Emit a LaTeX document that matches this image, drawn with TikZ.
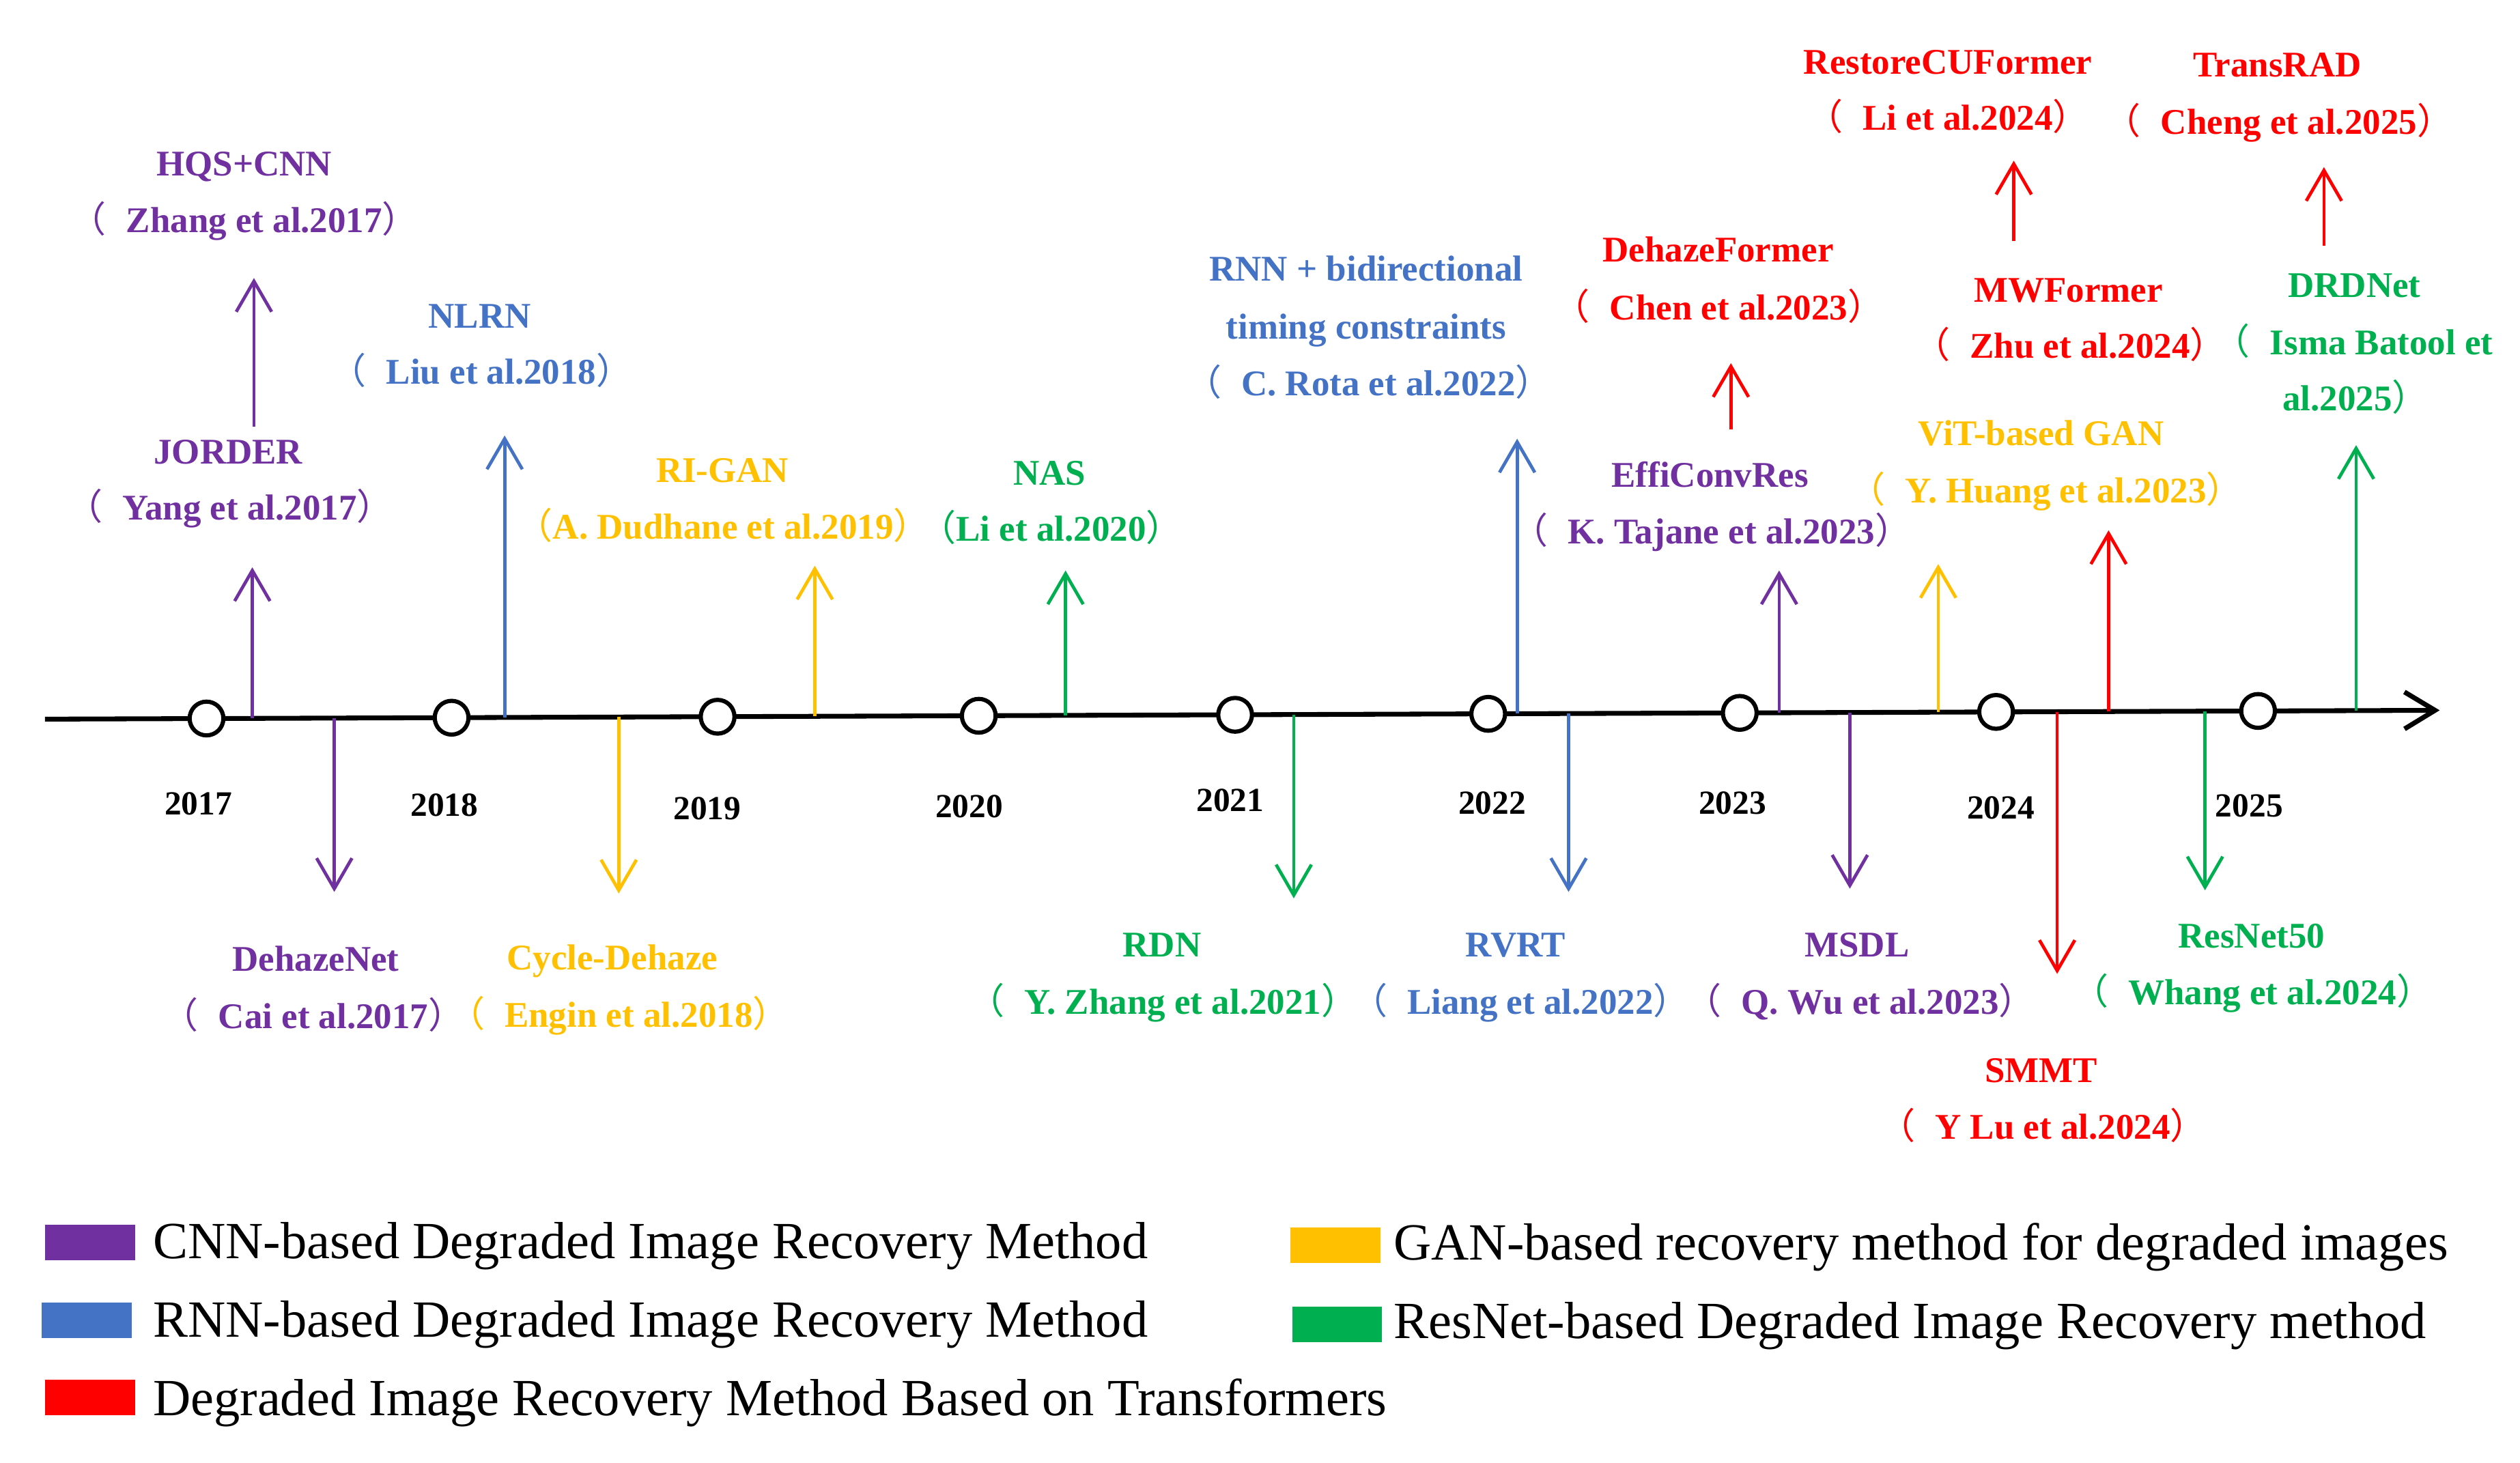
\documentclass[tikz,border=0pt]{standalone}
\usepackage{fontspec}
\setmainfont{Liberation Serif}
\newfontfamily\cjkfont{Noto Sans CJK SC}
\usetikzlibrary{arrows.meta}
\definecolor{cnn}{HTML}{7030A0}
\definecolor{rnn}{HTML}{4472C4}
\definecolor{trf}{HTML}{FF0000}
\definecolor{gan}{HTML}{FFC000}
\definecolor{res}{HTML}{00B050}
\newcommand{\LPx}{\hbox to 0.5em{\hss{\cjkfont\mdseries （}}}
\newcommand{\RPx}{\hbox to 0.5em{{\cjkfont\mdseries ）}\hss}}
\newcommand{\LPs}{\LPx\hspace{0.55em}}
\begin{document}
\begin{tikzpicture}[x=1pt,y=-1pt,
  lbl/.style={font=\fontsize{22.5}{27}\selectfont\bfseries, inner sep=0pt, anchor=base},
  yr/.style={font=\fontsize{21}{25}\selectfont\bfseries, inner sep=0pt},
  arr/.style={line width=2pt, -{Straight Barb[length=19pt,width=22pt,line width=2pt]}},
  axisline/.style={line width=3pt, -{Straight Barb[length=19pt,width=23pt,line width=3pt]}},
  yc/.style={circle, draw=black, line width=2.6pt, fill=white, minimum size=21pt, inner sep=0pt},
  legtxt/.style={font=\fontsize{32.5}{38}\selectfont, inner sep=0pt, anchor=base west},
  legbox/.style={minimum width=56pt, minimum height=22pt, inner sep=0pt, draw=none},
]
\fill[white] (0,0) rectangle (1568,910);
\useasboundingbox (0,0) rectangle (1568,910);

% axis
\coordinate (axL) at (28,447.5);
\coordinate (axR) at (1518,442);
\draw[axisline] (axL) -- (axR);

% colored arrows
\foreach \n/\x/\yb/\yt/\c in {
  u1/157/447/353/cnn, u2/158/265.5/173/cnn, u3/314/446.4/271/rnn,
  u4/507/445.7/352/gan, u5/663/445.2/355/res, u6/944/444.1/273/rnn,
  u7/1077/267/226/trf, u8/1107/443.5/355/cnn, u9/1206/443.2/351/gan,
  u10/1312/442.8/330/trf, u11/1253/150/100/trf, u12/1446/153/104/trf,
  u13/1466/442.2/277/res,
  d1/208/446.8/555/cnn, d2/385/446.2/556/gan, d3/805/444.6/559/res,
  d4/976/444/555/rnn, d5/1151/443.4/553/cnn, d6/1280/442.9/606/trf,
  d7/1372/442.5/554/res}{
  \coordinate (b\n) at (\x,\yb);
  \coordinate (t\n) at (\x,\yt);
  \draw[arr,\c] (b\n) -- (t\n);
}

% year circles
\foreach \yy/\x/\y in {2017/128.5/447.1, 2018/281/446.6, 2019/446.5/446, 2020/609/445.4,
  2021/768.5/444.8, 2022/926/444.2, 2023/1082.5/443.6, 2024/1242/443, 2025/1405/442.4}{
  \node[yc] (c\yy) at (\x,\y) {};
}
% year labels
\foreach \yy/\x/\y in {2017/123.5/500, 2018/276.5/501, 2019/440/503, 2020/603/502,
  2021/765.5/498, 2022/928.5/499.5, 2023/1078/499.5, 2024/1245/502.5, 2025/1399.5/501.5}{
  \node[yr] (y\yy) at (\x,\y) {\yy};
}

% labels above the axis
\node[lbl,text=cnn] (n1t) at (152,109.5) {HQS+CNN};
\node[lbl,text=cnn] (n1c) at (152,144.5) {\LPs Zhang et al.2017\RPx};
\node[lbl,text=cnn] (n2t) at (142,288.5) {JORDER};
\node[lbl,text=cnn] (n2c) at (143,323.5) {\LPs Yang et al.2017\RPx};
\node[lbl,text=rnn] (n3t) at (298.5,204) {NLRN};
\node[lbl,text=rnn] (n3c) at (299.5,239) {\LPs Liu et al.2018\RPx};
\node[lbl,text=gan] (n4t) at (449.5,300) {RI-GAN};
\node[lbl,text=gan] (n4c) at (450,335.5) {\LPx A. Dudhane et al.2019\RPx};
\node[lbl,text=res] (n5t) at (653,302) {NAS};
\node[lbl,text=res] (n5c) at (654,336.5) {\LPx Li et al.2020\RPx};
\node[lbl,text=rnn] (n6t) at (850,175) {RNN + bidirectional};
\node[lbl,text=rnn] (n6m) at (850,211) {timing constraints};
\node[lbl,text=rnn] (n6c) at (851.5,246) {\LPs C. Rota et al.2022\RPx};
\node[lbl,text=trf] (n7t) at (1069,163) {DehazeFormer};
\node[lbl,text=trf] (n7c) at (1069.5,199) {\LPs Chen et al.2023\RPx};
\node[lbl,text=cnn] (n8t) at (1064,303) {EffiConvRes};
\node[lbl,text=cnn] (n8c) at (1065,338.5) {\LPs K. Tajane et al.2023\RPx};
\node[lbl,text=trf] (n9t) at (1212,46) {RestoreCUFormer};
\node[lbl,text=trf] (n9c) at (1212,81) {\LPs Li et al.2024\RPx};
\node[lbl,text=trf] (n10t) at (1417,48) {TransRAD};
\node[lbl,text=trf] (n10c) at (1418,83.5) {\LPs Cheng et al.2025\RPx};
\node[lbl,text=trf] (n11t) at (1287,188) {MWFormer};
\node[lbl,text=trf] (n11c) at (1288,223) {\LPs Zhu et al.2024\RPx};
\node[lbl,text=res] (n12t) at (1465,185) {DRDNet};
\node[lbl,text=res] (n12m) at (1470,220.5) {\LPs Isma Batool et};
\node[lbl,text=res] (n12c) at (1460,255.5) {al.2025\RPx};
\node[lbl,text=gan] (n13t) at (1270,277) {ViT-based GAN};
\node[lbl,text=gan] (n13c) at (1273,313) {\LPs Y. Huang et al.2023\RPx};

% labels below the axis
\node[lbl,text=cnn] (m1t) at (196.5,604.5) {DehazeNet};
\node[lbl,text=cnn] (m1c) at (195,640) {\LPs Cai et al.2017\RPx};
\node[lbl,text=gan] (m2t) at (381,603.5) {Cycle-Dehaze};
\node[lbl,text=gan] (m2c) at (385,639) {\LPs Engin et al.2018\RPx};
\node[lbl,text=res] (m3t) at (723,595.5) {RDN};
\node[lbl,text=res] (m3c) at (723.5,631) {\LPs Y. Zhang et al.2021\RPx};
\node[lbl,text=rnn] (m4t) at (943,595.5) {RVRT};
\node[lbl,text=rnn] (m4c) at (946,631) {\LPs Liang et al.2022\RPx};
\node[lbl,text=cnn] (m5t) at (1155.5,595.5) {MSDL};
\node[lbl,text=cnn] (m5c) at (1157.5,631) {\LPs Q. Wu et al.2023\RPx};
\node[lbl,text=trf] (m6t) at (1270,673.5) {SMMT};
\node[lbl,text=trf] (m6c) at (1271,709) {\LPs Y Lu et al.2024\RPx};
\node[lbl,text=res] (m7t) at (1401,590) {ResNet50};
\node[lbl,text=res] (m7c) at (1401.5,625) {\LPs Whang et al.2024\RPx};

% legend
\node[legbox,fill=cnn] (k1) at (56,773) {};
\node[legtxt] (k1t) at (95,783) {CNN-based Degraded Image Recovery Method};
\node[legbox,fill=rnn] (k2) at (54,821.5) {};
\node[legtxt] (k2t) at (95,832) {RNN-based Degraded Image Recovery Method};
\node[legbox,fill=trf] (k3) at (56,869.5) {};
\node[legtxt] (k3t) at (95,881) {Degraded Image Recovery Method Based on Transformers};
\node[legbox,fill=gan] (k4) at (831,775) {};
\node[legtxt] (k4t) at (867,784) {GAN-based recovery method for degraded images};
\node[legbox,fill=res] (k5) at (832,824) {};
\node[legtxt] (k5t) at (867,833) {ResNet-based Degraded Image Recovery method};
\end{tikzpicture}
\end{document}
